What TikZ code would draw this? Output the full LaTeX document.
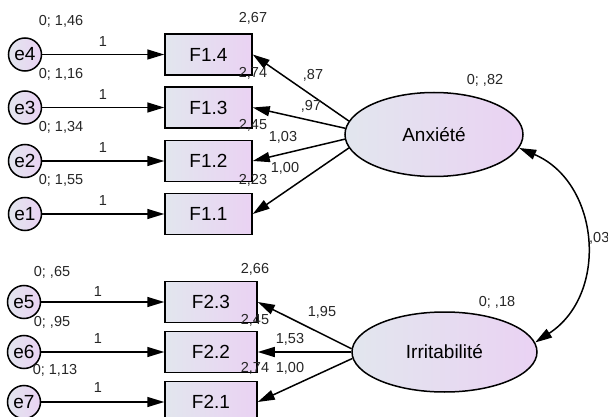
\documentclass[tikz,border=0pt]{standalone}
\usepackage{fontspec}
\setmainfont{Liberation Sans}
\usetikzlibrary{arrows.meta,shapes.geometric}
\definecolor{gl}{RGB}{226,230,238}
\definecolor{gr}{RGB}{234,210,243}
\tikzset{
  big/.style={font=\fontsize{19}{19}\selectfont},
  obs/.style={draw, line width=1.5pt, rectangle, minimum width=87pt, minimum height=41pt, inner sep=0pt, left color=gl, right color=gr, big},
  err/.style={draw, line width=1.5pt, circle, minimum size=33pt, inner sep=0pt, left color=gl, right color=gr, big},
  lat/.style={draw, line width=1.5pt, ellipse, minimum width=178pt, minimum height=84pt, inner sep=0pt, left color=gl, right color=gr, big},
  lbl/.style={font=\fontsize{14.5}{14.5}\selectfont, inner sep=0pt, text=black!85},
  arr/.style={line width=1.5pt, -{Triangle[length=17pt,width=10pt]}},
  darr/.style={line width=1.5pt, {Triangle[length=17pt,width=10pt]}-{Triangle[length=17pt,width=10pt]}},
}
\begin{document}
\begin{tikzpicture}[x=1pt,y=-1pt]
\clip (0,0) rectangle (608,417);
\fill[white] (0,0) rectangle (608,417);
% error terms
\node[err] (e4) at (25,54.5) {e4};
\node[err] (e3) at (25,107.5) {e3};
\node[err] (e2) at (25,161) {e2};
\node[err] (e1) at (25,214) {e1};
\node[err] (e5) at (24,302) {e5};
\node[err] (e6) at (24,352) {e6};
\node[err] (e7) at (24,402) {e7};
% observed
\node[obs] (f14) at (208.5,54.5) {F1.4};
\node[obs] (f13) at (208.5,107.5) {F1.3};
\node[obs] (f12) at (208.5,161) {F1.2};
\node[obs] (f11) at (208.5,214) {F1.1};
\node[obs, minimum width=92pt] (f23) at (211,302) {F2.3};
\node[obs, minimum width=92pt] (f22) at (211,352) {F2.2};
\node[obs, minimum width=92pt] (f21) at (211,402) {F2.1};
% latent
\node[lat] (anx) at (434,134.5) {Anxiété};
\node[lat, minimum width=185pt, minimum height=80pt] (irr) at (444.5,352) {Irritabilité};
% error arrows
\foreach \a/\b in {e4/f14,e3/f13,e2/f12,e1/f11,e5/f23,e6/f22,e7/f21}
  \draw[arr] (\a) -- (\b);
% loadings
\draw[arr] (anx.171) -- (f14.east);
\draw[arr] (anx.176) -- (f13.east);
\draw[arr] (anx.183) -- (f12.east);
\draw[arr] (anx.189) -- (f11.east);
\draw[arr] (irr.178) -- (f23.east);
\draw[arr] (irr.180) -- (f22.east);
\draw[arr] (irr.184) -- (f21.east);
% covariance
\draw[darr] (anx.-9) .. controls (599.7,182.3) and (609.4,293.9) .. (irr.6);
% labels
\node[lbl] (v4) at (61,21) {0; 1,46};
\node[lbl] (v3) at (61,74) {0; 1,16};
\node[lbl] (v2) at (61,127) {0; 1,34};
\node[lbl] (v1) at (61,180) {0; 1,55};
\node[lbl] (v5) at (52,272) {0; ,65};
\node[lbl] (v6) at (52,322) {0; ,95};
\node[lbl] (v7) at (55,370) {0; 1,13};
\node[lbl] (o4) at (103,42) {1};
\node[lbl] (o3) at (103,95) {1};
\node[lbl] (o2) at (103,148) {1};
\node[lbl] (o1) at (103,201) {1};
\node[lbl] (o5) at (98,292) {1};
\node[lbl] (o6) at (98,339) {1};
\node[lbl] (o7) at (98,388) {1};
\node[lbl] (m14) at (253,18) {2,67};
\node[lbl] (m13) at (253,73) {2,74};
\node[lbl] (m12) at (253,125) {2,45};
\node[lbl] (m11) at (253,180) {2,23};
\node[lbl] (m23) at (255,269) {2,66};
\node[lbl] (m22) at (255,320) {2,45};
\node[lbl] (m21) at (255,368) {2,74};
\node[lbl] (l14) at (313,75) {,87};
\node[lbl] (l13) at (311,106) {,97};
\node[lbl] (l12) at (283,137) {1,03};
\node[lbl] (l11) at (285,168) {1,00};
\node[lbl] (l23) at (322,312) {1,95};
\node[lbl] (l22) at (290,339) {1,53};
\node[lbl] (l21) at (290,368) {1,00};
\node[lbl] (va) at (485,80) {0; ,82};
\node[lbl] (vi) at (497,302) {0; ,18};
\node[lbl, anchor=west] (cv) at (589,238) {,03};
\end{tikzpicture}
\end{document}
